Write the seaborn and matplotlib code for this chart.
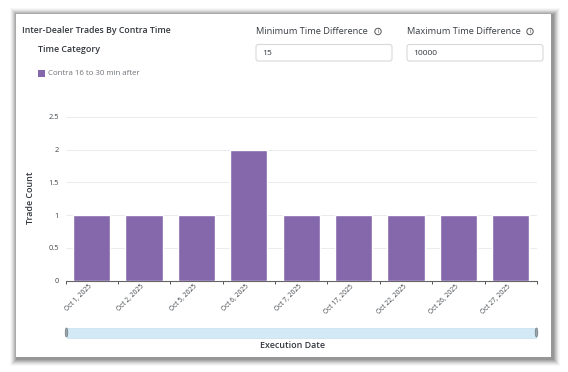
import matplotlib
matplotlib.use("Agg")
import matplotlib.pyplot as plt
import matplotlib.transforms as mtransforms
import pandas as pd
import seaborn as sns
from matplotlib.patches import Circle, Ellipse, FancyBboxPatch, Rectangle

DATES = ["Oct 1, 2025", "Oct 2, 2025", "Oct 5, 2025", "Oct 6, 2025", "Oct 7, 2025",
         "Oct 17, 2025", "Oct 22, 2025", "Oct 26, 2025", "Oct 27, 2025"]
COUNTS = [1, 1, 1, 2, 1, 1, 1, 1, 1]
Y_TICKS = [0, 0.5, 1, 1.5, 2, 2.5]
Y_LABELS = ["0", "0.5", "1", "1.5", "2", "2.5"]

W, H = 568, 372
BAR_COLOR = "#8468ab"
TEXT = "#33373d"
MUTED = "#6f7378"


def info_icon(ax, x, y):
    ax.add_patch(Circle((x, y), 3.2, fc="white", ec="#555555", lw=0.7))
    ax.text(x, y, "i", fontsize=4.5, color="#555555", ha="center", va="center")


def input_box(ax, x0, x1, y0, y1, value):
    ax.add_patch(FancyBboxPatch((x0, y0), x1 - x0, y1 - y0, boxstyle="round,pad=0,rounding_size=2.5",
                                fc="white", ec="#d6d8da", lw=0.8))
    ax.text(x0 + 6, (y0 + y1) / 2 + 0.5, value, fontsize=6.1, color=TEXT, va="center")


def main() -> None:
    sns.set_theme(style="white")
    plt.rcParams["font.family"] = ["Open Sans", "DejaVu Sans"]

    fig = plt.figure(figsize=(W / 100, H / 100), dpi=100, facecolor="white")

    # page layer in pixel coordinates: card, shadow and the dashboard controls
    bg = fig.add_axes([0, 0, 1, 1])
    bg.set_xlim(0, W)
    bg.set_ylim(H, 0)
    bg.axis("off")

    # the shadow sits a little to the lower right of the card
    for pad, alpha in [(7, 0.04), (6, 0.06), (5, 0.09), (4, 0.12), (3, 0.15), (2, 0.18), (1, 0.22)]:
        bg.add_patch(Rectangle((16 - pad + 1, 14 - pad + 1), 535 + 2 * pad + 1, 343 + 2 * pad + 1,
                               fc="#555555", ec="none", alpha=alpha))
    bg.add_patch(Rectangle((16, 14), 535, 343, fc="white", ec="none"))

    bg.text(22, 30.5, "Inter-Dealer Trades By Contra Time", fontsize=6.3, color=TEXT,
            weight="semibold", va="center")
    bg.text(38, 49.5, "Time Category", fontsize=6.4, color=TEXT, weight="semibold", va="center")
    bg.add_patch(Rectangle((38, 70), 6.5, 6.5, fc=BAR_COLOR, ec="none"))
    bg.text(48, 73.5, "Contra 16 to 30 min after", fontsize=5.7, color=MUTED, va="center")

    bg.text(256, 31.5, "Minimum Time Difference", fontsize=6.7, color="#3a3e44", va="center")
    info_icon(bg, 378, 31.5)
    bg.text(407, 31.5, "Maximum Time Difference", fontsize=6.7, color="#3a3e44", va="center")
    info_icon(bg, 530, 31.5)
    input_box(bg, 256, 392, 44.5, 61, "15")
    input_box(bg, 407, 543, 44.5, 61, "10000")

    # range slider under the chart
    bg.add_patch(Rectangle((67, 327.5), 469, 10, fc="#d3e9f5", ec="#c5e0ee", lw=0.5))
    for x in (66.5, 536.5):
        bg.add_patch(Ellipse((x, 332.5), 2.6, 9, fc="#9aa5ab", ec="#6f7a80", lw=0.5))
    bg.text(292, 345.5, "Execution Date", fontsize=6.4, color=TEXT, weight="semibold",
            ha="center", va="center")

    ax = fig.add_axes([65.5 / W, 1 - 280.5 / H, (537 - 65.5) / W, (280.5 - 117) / H])
    ax.patch.set_alpha(0)
    df = pd.DataFrame({"date": DATES, "count": COUNTS})
    sns.barplot(data=df, x="date", y="count", color=BAR_COLOR, saturation=1, width=0.71, ax=ax, zorder=3)

    ax.set_xlim(-0.5, len(DATES) - 0.5)
    ax.set_ylim(0, 2.5)
    ax.set_yticks(Y_TICKS, Y_LABELS)
    ax.set_xticks(range(len(DATES)), DATES)
    ax.set_xticks([i - 0.5 for i in range(len(DATES) + 1)], minor=True)
    ax.grid(axis="y", color="#e9ebed", lw=0.7, zorder=0)
    ax.set_axisbelow(True)

    ax.tick_params(axis="x", which="major", length=0, pad=2, labelsize=4.8, labelcolor="#3f4348")
    ax.tick_params(axis="x", which="minor", length=2.5, width=0.7, color="#555555", bottom=True)
    ax.tick_params(axis="y", length=0, pad=5, labelsize=5.3, labelcolor="#3f4348")
    shift = mtransforms.ScaledTranslation(-3 / 100, 0, fig.dpi_scale_trans)
    for label in ax.get_xticklabels():
        label.set_rotation(45)
        label.set_ha("right")
        label.set_rotation_mode("anchor")
        label.set_transform(label.get_transform() + shift)

    sns.despine(ax=ax, left=True)
    ax.spines["bottom"].set_color("#666666")
    ax.spines["bottom"].set_linewidth(0.8)
    ax.set_xlabel("")
    ax.set_ylabel("")
    bg.text(30.5, 198, "Trade Count", fontsize=6.4, color=TEXT, weight="semibold", rotation=90,
            ha="center", va="center")

    fig.savefig("out.png", dpi=100)
    plt.close(fig)


if __name__ == "__main__":
    main()
